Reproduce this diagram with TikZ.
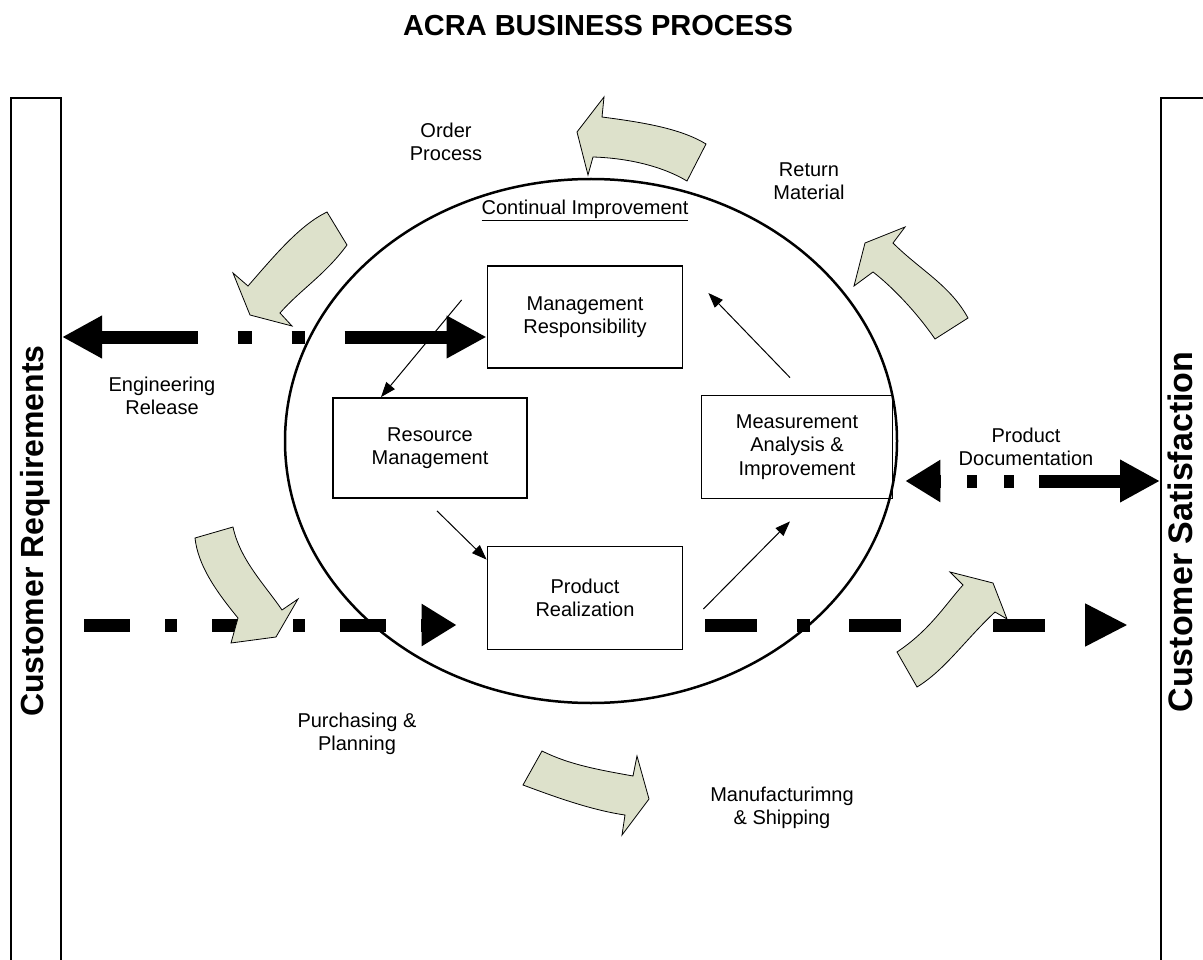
\documentclass[tikz,border=0pt]{standalone}
\usepackage{fontspec}
\setmainfont{Liberation Sans}
\usetikzlibrary{arrows.meta}
\definecolor{sage}{HTML}{DDE1CB}
\newcommand{\lblfont}{\fontsize{20}{23.5}\selectfont}

\begin{document}
\begin{tikzpicture}[x=1pt,y=-1pt,
  box/.style={draw,line width=1.8pt,minimum width=195pt,minimum height=102pt,align=center,font=\lblfont,inner sep=0pt},
  lab/.style={align=center,font=\lblfont},
  sidebar/.style={draw,line width=2pt,minimum width=50pt,minimum height=900pt,anchor=north west,inner sep=0pt},
  block/.style={fill=sage,draw=black,line width=0.8pt},
  thinarrow/.style={line width=1pt,-{Triangle[length=15pt,width=11pt]}},
  fat/.style={line width=13pt}]
\useasboundingbox (0,0) rectangle (1203,960);

\node[font=\bfseries\fontsize{29}{33}\selectfont] (title) at (598,26) {ACRA BUSINESS PROCESS};

\node[sidebar] (reqbar) at (10,97) {};
\node[sidebar] (satbar) at (1160,97) {};
\node[rotate=90,font=\bfseries\fontsize{32}{36}\selectfont] (reqtxt) at (35,531) {Customer Requirements};
\node[rotate=90,font=\bfseries\fontsize{34}{38}\selectfont] (sattxt) at (1180,532) {Customer Satisfaction};

\draw[line width=2.5pt] (591,441) ellipse [x radius=306, y radius=262];
\node[lab] (ci) at (585,210) {\underline{Continual Improvement}};

\node[box] (mgmt) at (585,317) {Management\\Responsibility};
\node[box,minimum width=194pt,minimum height=100pt] (res) at (430,448) {Resource\\Management};
\node[box,minimum width=191pt,minimum height=103pt] (meas) at (797,447) {Measurement\\Analysis \&\\Improvement};
\node[box,minimum height=103pt] (prod) at (585,598) {Product\\Realization};

\coordinate (mgA) at ([yshift=-20pt]mgmt.west);
\coordinate (prA) at ([yshift=-27pt]prod.west);
\coordinate (meA) at ([yshift=-34pt]meas.east);

\draw[fat,{Triangle[length=40pt,width=40pt]}-{Triangle[length=40pt,width=40pt]},
  dash pattern=on 98pt off 40pt on 14pt off 40pt on 13pt off 40pt on 300pt]
  (reqbar.east |- mgA) -- (mgA);
\draw[fat,-{Triangle[length=35pt,width=40pt]},shorten <=22pt,shorten >=30pt,
  dash pattern=on 46pt off 35pt on 12pt off 35pt]
  (reqbar.east |- prA) -- (prA);
\draw[fat,-{Triangle[length=43pt,width=40pt]},shorten <=22pt,shorten >=32pt,
  dash pattern=on 52pt off 40pt on 13pt off 39pt]
  (prod.east |- prA) -- (satbar.west |- prA);
\draw[fat,{Triangle[length=35pt,width=40pt]}-{Triangle[length=40pt,width=40pt]},shorten <=12pt,
  dash pattern=on 3pt off 26pt on 10pt off 27pt on 10pt off 25pt on 300pt]
  (meA) -- (satbar.west |- meA);

\draw[thinarrow] ([xshift=-25pt,yshift=17pt]mgmt.west) -- ([xshift=-49pt]res.north);
\draw[thinarrow] ([xshift=7pt,yshift=-12pt]res.south) -- ([yshift=-14pt]prod.north west);
\draw[thinarrow] ([xshift=20pt,yshift=-11pt]prod.east) -- ([xshift=-7pt,yshift=-22pt]meas.south);
\draw[thinarrow] ([xshift=-7pt,yshift=17pt]meas.north) -- ([xshift=25pt,yshift=24pt]mgmt.east);

% curved block arrows round the loop
\draw[block] (577,132) -- (604,97) -- (602,117) .. controls (640,122) and (680,128) .. (706,144)
  -- (687,181) .. controls (660,165) and (625,158) .. (593,157) -- (588,175) -- cycle;
\draw[block] (250,315) -- (233,273) -- (248,286) .. controls (275,255) and (300,225) .. (327,212)
  -- (347,245) .. controls (325,275) and (300,290) .. (280,313) -- (292,326) -- cycle;
\draw[block] (865,243) -- (905,227) -- (893,243) .. controls (920,270) and (950,285) .. (968,318)
  -- (935,339) .. controls (915,310) and (890,285) .. (873,272) -- (854,286) -- cycle;
\draw[block] (276,637) -- (231,643) -- (238,618) .. controls (215,590) and (198,565) .. (195,538)
  -- (233,527) .. controls (240,560) and (265,585) .. (282,610) -- (298,599) -- cycle;
\draw[block] (649,799) -- (637,756) -- (633,776) .. controls (600,770) and (570,765) .. (542,751)
  -- (523,785) .. controls (550,795) and (590,810) .. (625,815) -- (622,835) -- cycle;
\draw[block] (993,583) -- (950,572) -- (963,585) .. controls (945,605) and (930,630) .. (897,652)
  -- (917,687) .. controls (945,670) and (965,640) .. (995,612) -- (1007,619) -- cycle;

\node[lab] (order) at (446,142) {Order\\Process};
\node[lab] (ret) at (809,181) {Return\\Material};
\node[lab] (eng) at (162,396) {Engineering\\Release};
\node[lab] (doc) at (1026,447) {Product\\Documentation};
\node[lab] (purch) at (357,734) {Purchasing \&\\Planning};
\node[lab] (manuf) at (782,808) {Manufacturimng\\\& Shipping};
\end{tikzpicture}
\end{document}
